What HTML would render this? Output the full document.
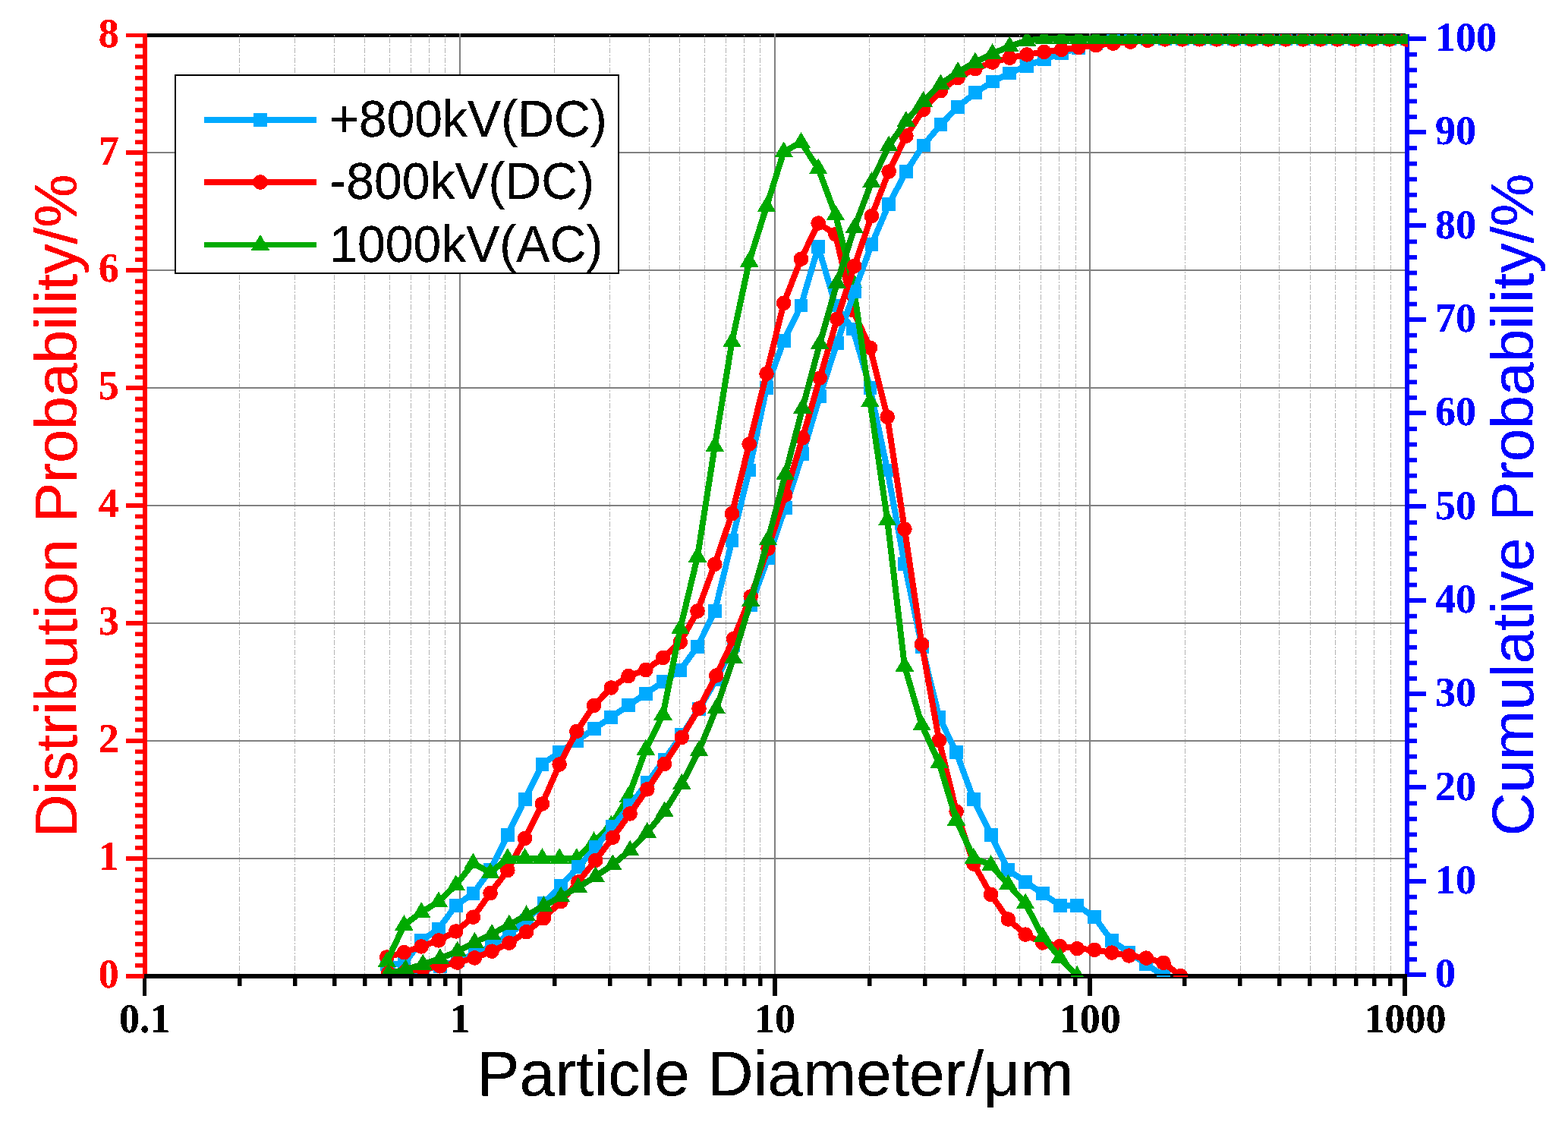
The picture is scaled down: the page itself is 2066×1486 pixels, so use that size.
<!DOCTYPE html>
<html lang="en"><head><meta charset="utf-8"><title>Particle size distribution</title>
<style>
html,body{margin:0;padding:0;background:#fff}
body{width:2066px;height:1486px;overflow:hidden}
svg{display:block}
</style></head>
<body>
<svg width="2066" height="1486" viewBox="0 0 2066 1486">
<defs>
<clipPath id="cpd"><rect x="191" y="46" width="1662" height="1237"/></clipPath>
<clipPath id="cpc"><rect x="191" y="45" width="1664" height="1238"/></clipPath>
<clipPath id="cps"><rect x="191" y="1285" width="1664" height="2"/></clipPath>
<filter id="th" x="0" y="0" width="2066" height="1486" filterUnits="userSpaceOnUse" color-interpolation-filters="sRGB"><feComponentTransfer><feFuncA type="discrete" tableValues="0 1 1"/></feComponentTransfer></filter>
</defs>
<rect width="2066" height="1486" fill="#fff"/>
<g shape-rendering="crispEdges">
<rect x="191" y="44" width="1661" height="5" fill="#000"/>
<line x1="315.5" y1="46" x2="315.5" y2="1283" stroke="#b4b4b4" stroke-width="1" stroke-dasharray="2 2.25 6.5 2.25"/>
<line x1="388.5" y1="46" x2="388.5" y2="1283" stroke="#b4b4b4" stroke-width="1" stroke-dasharray="2 2.25 6.5 2.25"/>
<line x1="440.5" y1="46" x2="440.5" y2="1283" stroke="#b4b4b4" stroke-width="1" stroke-dasharray="2 2.25 6.5 2.25"/>
<line x1="480.5" y1="46" x2="480.5" y2="1283" stroke="#b4b4b4" stroke-width="1" stroke-dasharray="2 2.25 6.5 2.25"/>
<line x1="513.5" y1="46" x2="513.5" y2="1283" stroke="#b4b4b4" stroke-width="1" stroke-dasharray="2 2.25 6.5 2.25"/>
<line x1="541.5" y1="46" x2="541.5" y2="1283" stroke="#b4b4b4" stroke-width="1" stroke-dasharray="2 2.25 6.5 2.25"/>
<line x1="565.5" y1="46" x2="565.5" y2="1283" stroke="#b4b4b4" stroke-width="1" stroke-dasharray="2 2.25 6.5 2.25"/>
<line x1="586.5" y1="46" x2="586.5" y2="1283" stroke="#b4b4b4" stroke-width="1" stroke-dasharray="2 2.25 6.5 2.25"/>
<line x1="730.5" y1="46" x2="730.5" y2="1283" stroke="#b4b4b4" stroke-width="1" stroke-dasharray="2 2.25 6.5 2.25"/>
<line x1="803.5" y1="46" x2="803.5" y2="1283" stroke="#b4b4b4" stroke-width="1" stroke-dasharray="2 2.25 6.5 2.25"/>
<line x1="855.5" y1="46" x2="855.5" y2="1283" stroke="#b4b4b4" stroke-width="1" stroke-dasharray="2 2.25 6.5 2.25"/>
<line x1="895.5" y1="46" x2="895.5" y2="1283" stroke="#b4b4b4" stroke-width="1" stroke-dasharray="2 2.25 6.5 2.25"/>
<line x1="928.5" y1="46" x2="928.5" y2="1283" stroke="#b4b4b4" stroke-width="1" stroke-dasharray="2 2.25 6.5 2.25"/>
<line x1="956.5" y1="46" x2="956.5" y2="1283" stroke="#b4b4b4" stroke-width="1" stroke-dasharray="2 2.25 6.5 2.25"/>
<line x1="980.5" y1="46" x2="980.5" y2="1283" stroke="#b4b4b4" stroke-width="1" stroke-dasharray="2 2.25 6.5 2.25"/>
<line x1="1001.5" y1="46" x2="1001.5" y2="1283" stroke="#b4b4b4" stroke-width="1" stroke-dasharray="2 2.25 6.5 2.25"/>
<line x1="1145.5" y1="46" x2="1145.5" y2="1283" stroke="#b4b4b4" stroke-width="1" stroke-dasharray="2 2.25 6.5 2.25"/>
<line x1="1218.5" y1="46" x2="1218.5" y2="1283" stroke="#b4b4b4" stroke-width="1" stroke-dasharray="2 2.25 6.5 2.25"/>
<line x1="1270.5" y1="46" x2="1270.5" y2="1283" stroke="#b4b4b4" stroke-width="1" stroke-dasharray="2 2.25 6.5 2.25"/>
<line x1="1311.5" y1="46" x2="1311.5" y2="1283" stroke="#b4b4b4" stroke-width="1" stroke-dasharray="2 2.25 6.5 2.25"/>
<line x1="1343.5" y1="46" x2="1343.5" y2="1283" stroke="#b4b4b4" stroke-width="1" stroke-dasharray="2 2.25 6.5 2.25"/>
<line x1="1371.5" y1="46" x2="1371.5" y2="1283" stroke="#b4b4b4" stroke-width="1" stroke-dasharray="2 2.25 6.5 2.25"/>
<line x1="1395.5" y1="46" x2="1395.5" y2="1283" stroke="#b4b4b4" stroke-width="1" stroke-dasharray="2 2.25 6.5 2.25"/>
<line x1="1417.5" y1="46" x2="1417.5" y2="1283" stroke="#b4b4b4" stroke-width="1" stroke-dasharray="2 2.25 6.5 2.25"/>
<line x1="1561.5" y1="46" x2="1561.5" y2="1283" stroke="#b4b4b4" stroke-width="1" stroke-dasharray="2 2.25 6.5 2.25"/>
<line x1="1634.5" y1="46" x2="1634.5" y2="1283" stroke="#b4b4b4" stroke-width="1" stroke-dasharray="2 2.25 6.5 2.25"/>
<line x1="1685.5" y1="46" x2="1685.5" y2="1283" stroke="#b4b4b4" stroke-width="1" stroke-dasharray="2 2.25 6.5 2.25"/>
<line x1="1726.5" y1="46" x2="1726.5" y2="1283" stroke="#b4b4b4" stroke-width="1" stroke-dasharray="2 2.25 6.5 2.25"/>
<line x1="1759.5" y1="46" x2="1759.5" y2="1283" stroke="#b4b4b4" stroke-width="1" stroke-dasharray="2 2.25 6.5 2.25"/>
<line x1="1786.5" y1="46" x2="1786.5" y2="1283" stroke="#b4b4b4" stroke-width="1" stroke-dasharray="2 2.25 6.5 2.25"/>
<line x1="1810.5" y1="46" x2="1810.5" y2="1283" stroke="#b4b4b4" stroke-width="1" stroke-dasharray="2 2.25 6.5 2.25"/>
<line x1="1832.5" y1="46" x2="1832.5" y2="1283" stroke="#b4b4b4" stroke-width="1" stroke-dasharray="2 2.25 6.5 2.25"/>
<rect x="605" y="44" width="2" height="1240" fill="#808080"/>
<rect x="1020" y="44" width="2" height="1240" fill="#808080"/>
<rect x="1435" y="44" width="2" height="1240" fill="#808080"/>
<rect x="193" y="1130" width="1660" height="2" fill="#808080"/>
<rect x="193" y="975" width="1660" height="2" fill="#808080"/>
<rect x="193" y="820" width="1660" height="2" fill="#808080"/>
<rect x="193" y="665" width="1660" height="2" fill="#808080"/>
<rect x="193" y="510" width="1660" height="2" fill="#808080"/>
<rect x="193" y="355" width="1660" height="2" fill="#808080"/>
<rect x="193" y="200" width="1660" height="2" fill="#808080"/>
<rect x="1851" y="45" width="6" height="1242" fill="#00f"/><rect x="1851" y="1281" width="28" height="6" fill="#00f"/><rect x="1851" y="1158" width="28" height="6" fill="#00f"/><rect x="1851" y="1034" width="28" height="6" fill="#00f"/><rect x="1851" y="911" width="28" height="6" fill="#00f"/><rect x="1851" y="788" width="28" height="6" fill="#00f"/><rect x="1851" y="664" width="28" height="6" fill="#00f"/><rect x="1851" y="541" width="28" height="6" fill="#00f"/><rect x="1851" y="418" width="28" height="6" fill="#00f"/><rect x="1851" y="294" width="28" height="6" fill="#00f"/><rect x="1851" y="171" width="28" height="6" fill="#00f"/><rect x="1851" y="48" width="28" height="6" fill="#00f"/><rect x="1851" y="1260.95" width="16" height="5.8" fill="#00f" shape-rendering="auto"/><rect x="1851" y="1240.39" width="16" height="5.8" fill="#00f" shape-rendering="auto"/><rect x="1851" y="1219.84" width="16" height="5.8" fill="#00f" shape-rendering="auto"/><rect x="1851" y="1199.29" width="16" height="5.8" fill="#00f" shape-rendering="auto"/><rect x="1851" y="1178.73" width="16" height="5.8" fill="#00f" shape-rendering="auto"/><rect x="1851" y="1137.63" width="16" height="5.8" fill="#00f" shape-rendering="auto"/><rect x="1851" y="1117.07" width="16" height="5.8" fill="#00f" shape-rendering="auto"/><rect x="1851" y="1096.52" width="16" height="5.8" fill="#00f" shape-rendering="auto"/><rect x="1851" y="1075.97" width="16" height="5.8" fill="#00f" shape-rendering="auto"/><rect x="1851" y="1055.41" width="16" height="5.8" fill="#00f" shape-rendering="auto"/><rect x="1851" y="1014.31" width="16" height="5.8" fill="#00f" shape-rendering="auto"/><rect x="1851" y="993.75" width="16" height="5.8" fill="#00f" shape-rendering="auto"/><rect x="1851" y="973.20" width="16" height="5.8" fill="#00f" shape-rendering="auto"/><rect x="1851" y="952.65" width="16" height="5.8" fill="#00f" shape-rendering="auto"/><rect x="1851" y="932.09" width="16" height="5.8" fill="#00f" shape-rendering="auto"/><rect x="1851" y="890.99" width="16" height="5.8" fill="#00f" shape-rendering="auto"/><rect x="1851" y="870.43" width="16" height="5.8" fill="#00f" shape-rendering="auto"/><rect x="1851" y="849.88" width="16" height="5.8" fill="#00f" shape-rendering="auto"/><rect x="1851" y="829.33" width="16" height="5.8" fill="#00f" shape-rendering="auto"/><rect x="1851" y="808.77" width="16" height="5.8" fill="#00f" shape-rendering="auto"/><rect x="1851" y="767.67" width="16" height="5.8" fill="#00f" shape-rendering="auto"/><rect x="1851" y="747.11" width="16" height="5.8" fill="#00f" shape-rendering="auto"/><rect x="1851" y="726.56" width="16" height="5.8" fill="#00f" shape-rendering="auto"/><rect x="1851" y="706.01" width="16" height="5.8" fill="#00f" shape-rendering="auto"/><rect x="1851" y="685.45" width="16" height="5.8" fill="#00f" shape-rendering="auto"/><rect x="1851" y="644.35" width="16" height="5.8" fill="#00f" shape-rendering="auto"/><rect x="1851" y="623.79" width="16" height="5.8" fill="#00f" shape-rendering="auto"/><rect x="1851" y="603.24" width="16" height="5.8" fill="#00f" shape-rendering="auto"/><rect x="1851" y="582.69" width="16" height="5.8" fill="#00f" shape-rendering="auto"/><rect x="1851" y="562.13" width="16" height="5.8" fill="#00f" shape-rendering="auto"/><rect x="1851" y="521.03" width="16" height="5.8" fill="#00f" shape-rendering="auto"/><rect x="1851" y="500.47" width="16" height="5.8" fill="#00f" shape-rendering="auto"/><rect x="1851" y="479.92" width="16" height="5.8" fill="#00f" shape-rendering="auto"/><rect x="1851" y="459.37" width="16" height="5.8" fill="#00f" shape-rendering="auto"/><rect x="1851" y="438.81" width="16" height="5.8" fill="#00f" shape-rendering="auto"/><rect x="1851" y="397.71" width="16" height="5.8" fill="#00f" shape-rendering="auto"/><rect x="1851" y="377.15" width="16" height="5.8" fill="#00f" shape-rendering="auto"/><rect x="1851" y="356.60" width="16" height="5.8" fill="#00f" shape-rendering="auto"/><rect x="1851" y="336.05" width="16" height="5.8" fill="#00f" shape-rendering="auto"/><rect x="1851" y="315.49" width="16" height="5.8" fill="#00f" shape-rendering="auto"/><rect x="1851" y="274.39" width="16" height="5.8" fill="#00f" shape-rendering="auto"/><rect x="1851" y="253.83" width="16" height="5.8" fill="#00f" shape-rendering="auto"/><rect x="1851" y="233.28" width="16" height="5.8" fill="#00f" shape-rendering="auto"/><rect x="1851" y="212.73" width="16" height="5.8" fill="#00f" shape-rendering="auto"/><rect x="1851" y="192.17" width="16" height="5.8" fill="#00f" shape-rendering="auto"/><rect x="1851" y="151.07" width="16" height="5.8" fill="#00f" shape-rendering="auto"/><rect x="1851" y="130.51" width="16" height="5.8" fill="#00f" shape-rendering="auto"/><rect x="1851" y="109.96" width="16" height="5.8" fill="#00f" shape-rendering="auto"/><rect x="1851" y="89.41" width="16" height="5.8" fill="#00f" shape-rendering="auto"/><rect x="1851" y="68.85" width="16" height="5.8" fill="#00f" shape-rendering="auto"/>
</g>
<g clip-path="url(#cpd)" shape-rendering="crispEdges">
<polyline points="509.7,1270.2 532.4,1270.2 555.2,1239.2 577.9,1223.7 600.7,1192.7 623.4,1177.2 646.1,1146.2 668.9,1099.7 691.6,1053.2 714.4,1006.7 737.1,991.2 759.8,975.8 782.6,960.3 805.3,944.8 828.1,929.3 850.8,913.8 873.5,898.3 896.3,882.8 919.0,851.8 941.8,805.3 964.5,712.3 987.2,619.4 1010.0,510.9 1032.7,448.9 1055.5,402.4 1078.2,325.0 1100.9,402.4 1123.7,433.4 1146.4,510.9 1169.2,619.4 1191.9,743.3 1214.6,851.8 1237.4,944.8 1260.1,991.2 1282.9,1053.2 1305.6,1099.7 1328.3,1146.2 1351.1,1161.7 1373.8,1177.2 1396.6,1192.7 1419.3,1192.7 1442.0,1208.2 1464.8,1239.2 1487.5,1254.7 1510.3,1270.2 1533.0,1285.7" fill="none" stroke="#00AAFF" stroke-width="8" stroke-linejoin="round"/><rect x="500.8" y="1261.3" width="17.8" height="17.8" fill="#00AAFF"/><rect x="523.5" y="1261.3" width="17.8" height="17.8" fill="#00AAFF"/><rect x="546.3" y="1230.3" width="17.8" height="17.8" fill="#00AAFF"/><rect x="569.0" y="1214.8" width="17.8" height="17.8" fill="#00AAFF"/><rect x="591.8" y="1183.8" width="17.8" height="17.8" fill="#00AAFF"/><rect x="614.5" y="1168.3" width="17.8" height="17.8" fill="#00AAFF"/><rect x="637.2" y="1137.3" width="17.8" height="17.8" fill="#00AAFF"/><rect x="660.0" y="1090.8" width="17.8" height="17.8" fill="#00AAFF"/><rect x="682.7" y="1044.3" width="17.8" height="17.8" fill="#00AAFF"/><rect x="705.5" y="997.8" width="17.8" height="17.8" fill="#00AAFF"/><rect x="728.2" y="982.3" width="17.8" height="17.8" fill="#00AAFF"/><rect x="750.9" y="966.9" width="17.8" height="17.8" fill="#00AAFF"/><rect x="773.7" y="951.4" width="17.8" height="17.8" fill="#00AAFF"/><rect x="796.4" y="935.9" width="17.8" height="17.8" fill="#00AAFF"/><rect x="819.2" y="920.4" width="17.8" height="17.8" fill="#00AAFF"/><rect x="841.9" y="904.9" width="17.8" height="17.8" fill="#00AAFF"/><rect x="864.6" y="889.4" width="17.8" height="17.8" fill="#00AAFF"/><rect x="887.4" y="873.9" width="17.8" height="17.8" fill="#00AAFF"/><rect x="910.1" y="842.9" width="17.8" height="17.8" fill="#00AAFF"/><rect x="932.9" y="796.4" width="17.8" height="17.8" fill="#00AAFF"/><rect x="955.6" y="703.4" width="17.8" height="17.8" fill="#00AAFF"/><rect x="978.3" y="610.5" width="17.8" height="17.8" fill="#00AAFF"/><rect x="1001.1" y="502.0" width="17.8" height="17.8" fill="#00AAFF"/><rect x="1023.8" y="440.0" width="17.8" height="17.8" fill="#00AAFF"/><rect x="1046.6" y="393.5" width="17.8" height="17.8" fill="#00AAFF"/><rect x="1069.3" y="316.1" width="17.8" height="17.8" fill="#00AAFF"/><rect x="1092.0" y="393.5" width="17.8" height="17.8" fill="#00AAFF"/><rect x="1114.8" y="424.5" width="17.8" height="17.8" fill="#00AAFF"/><rect x="1137.5" y="502.0" width="17.8" height="17.8" fill="#00AAFF"/><rect x="1160.3" y="610.5" width="17.8" height="17.8" fill="#00AAFF"/><rect x="1183.0" y="734.4" width="17.8" height="17.8" fill="#00AAFF"/><rect x="1205.7" y="842.9" width="17.8" height="17.8" fill="#00AAFF"/><rect x="1228.5" y="935.9" width="17.8" height="17.8" fill="#00AAFF"/><rect x="1251.2" y="982.3" width="17.8" height="17.8" fill="#00AAFF"/><rect x="1274.0" y="1044.3" width="17.8" height="17.8" fill="#00AAFF"/><rect x="1296.7" y="1090.8" width="17.8" height="17.8" fill="#00AAFF"/><rect x="1319.4" y="1137.3" width="17.8" height="17.8" fill="#00AAFF"/><rect x="1342.2" y="1152.8" width="17.8" height="17.8" fill="#00AAFF"/><rect x="1364.9" y="1168.3" width="17.8" height="17.8" fill="#00AAFF"/><rect x="1387.7" y="1183.8" width="17.8" height="17.8" fill="#00AAFF"/><rect x="1410.4" y="1183.8" width="17.8" height="17.8" fill="#00AAFF"/><rect x="1433.1" y="1199.3" width="17.8" height="17.8" fill="#00AAFF"/><rect x="1455.9" y="1230.3" width="17.8" height="17.8" fill="#00AAFF"/><rect x="1478.6" y="1245.8" width="17.8" height="17.8" fill="#00AAFF"/><rect x="1501.4" y="1261.3" width="17.8" height="17.8" fill="#00AAFF"/><rect x="1524.1" y="1276.8" width="17.8" height="17.8" fill="#00AAFF"/>
<polyline points="509.7,1260.9 532.4,1254.7 555.2,1246.9 577.9,1238.9 600.7,1226.9 623.4,1208.2 646.1,1176.6 668.9,1146.5 691.6,1104.4 714.4,1059.0 737.1,1007.0 759.8,963.5 782.6,929.4 805.3,906.0 828.1,890.5 850.8,882.5 873.5,866.5 896.3,845.9 919.0,805.0 941.8,743.3 964.5,676.7 987.2,585.0 1010.0,492.2 1032.7,399.3 1055.5,341.2 1078.2,294.0 1100.9,308.7 1123.7,408.6 1146.4,458.1 1169.2,549.3 1191.9,697.0 1214.6,848.8 1237.4,975.4 1260.1,1069.0 1282.9,1138.0 1305.6,1178.4 1328.3,1211.0 1351.1,1231.1 1373.8,1242.0 1396.6,1246.6 1419.3,1249.7 1442.0,1251.3 1464.8,1255.1 1487.5,1259.0 1510.3,1262.1 1533.0,1268.3 1555.7,1285.7" fill="none" stroke="#FF0000" stroke-width="8" stroke-linejoin="round"/><circle cx="509.7" cy="1260.9" r="9.8" fill="#FF0000"/><circle cx="532.4" cy="1254.7" r="9.8" fill="#FF0000"/><circle cx="555.2" cy="1246.9" r="9.8" fill="#FF0000"/><circle cx="577.9" cy="1238.9" r="9.8" fill="#FF0000"/><circle cx="600.7" cy="1226.9" r="9.8" fill="#FF0000"/><circle cx="623.4" cy="1208.2" r="9.8" fill="#FF0000"/><circle cx="646.1" cy="1176.6" r="9.8" fill="#FF0000"/><circle cx="668.9" cy="1146.5" r="9.8" fill="#FF0000"/><circle cx="691.6" cy="1104.4" r="9.8" fill="#FF0000"/><circle cx="714.4" cy="1059.0" r="9.8" fill="#FF0000"/><circle cx="737.1" cy="1007.0" r="9.8" fill="#FF0000"/><circle cx="759.8" cy="963.5" r="9.8" fill="#FF0000"/><circle cx="782.6" cy="929.4" r="9.8" fill="#FF0000"/><circle cx="805.3" cy="906.0" r="9.8" fill="#FF0000"/><circle cx="828.1" cy="890.5" r="9.8" fill="#FF0000"/><circle cx="850.8" cy="882.5" r="9.8" fill="#FF0000"/><circle cx="873.5" cy="866.5" r="9.8" fill="#FF0000"/><circle cx="896.3" cy="845.9" r="9.8" fill="#FF0000"/><circle cx="919.0" cy="805.0" r="9.8" fill="#FF0000"/><circle cx="941.8" cy="743.3" r="9.8" fill="#FF0000"/><circle cx="964.5" cy="676.7" r="9.8" fill="#FF0000"/><circle cx="987.2" cy="585.0" r="9.8" fill="#FF0000"/><circle cx="1010.0" cy="492.2" r="9.8" fill="#FF0000"/><circle cx="1032.7" cy="399.3" r="9.8" fill="#FF0000"/><circle cx="1055.5" cy="341.2" r="9.8" fill="#FF0000"/><circle cx="1078.2" cy="294.0" r="9.8" fill="#FF0000"/><circle cx="1100.9" cy="308.7" r="9.8" fill="#FF0000"/><circle cx="1123.7" cy="408.6" r="9.8" fill="#FF0000"/><circle cx="1146.4" cy="458.1" r="9.8" fill="#FF0000"/><circle cx="1169.2" cy="549.3" r="9.8" fill="#FF0000"/><circle cx="1191.9" cy="697.0" r="9.8" fill="#FF0000"/><circle cx="1214.6" cy="848.8" r="9.8" fill="#FF0000"/><circle cx="1237.4" cy="975.4" r="9.8" fill="#FF0000"/><circle cx="1260.1" cy="1069.0" r="9.8" fill="#FF0000"/><circle cx="1282.9" cy="1138.0" r="9.8" fill="#FF0000"/><circle cx="1305.6" cy="1178.4" r="9.8" fill="#FF0000"/><circle cx="1328.3" cy="1211.0" r="9.8" fill="#FF0000"/><circle cx="1351.1" cy="1231.1" r="9.8" fill="#FF0000"/><circle cx="1373.8" cy="1242.0" r="9.8" fill="#FF0000"/><circle cx="1396.6" cy="1246.6" r="9.8" fill="#FF0000"/><circle cx="1419.3" cy="1249.7" r="9.8" fill="#FF0000"/><circle cx="1442.0" cy="1251.3" r="9.8" fill="#FF0000"/><circle cx="1464.8" cy="1255.1" r="9.8" fill="#FF0000"/><circle cx="1487.5" cy="1259.0" r="9.8" fill="#FF0000"/><circle cx="1510.3" cy="1262.1" r="9.8" fill="#FF0000"/><circle cx="1533.0" cy="1268.3" r="9.8" fill="#FF0000"/><circle cx="1555.7" cy="1285.7" r="9.8" fill="#FF0000"/>
<polyline points="509.7,1267.1 532.4,1218.6 555.2,1201.8 577.9,1187.9 600.7,1165.9 623.4,1137.2 646.1,1149.8 668.9,1130.7 691.6,1130.7 714.4,1130.7 737.1,1130.7 759.8,1130.7 782.6,1108.9 805.3,1087.3 828.1,1049.4 850.8,987.5 873.5,941.4 896.3,828.2 919.0,733.4 941.8,587.8 964.5,450.0 987.2,344.5 1010.0,272.0 1032.7,199.9 1055.5,187.5 1078.2,222.1 1100.9,283.1 1123.7,371.4 1146.4,528.9 1169.2,685.2 1191.9,877.4 1214.6,955.1 1237.4,1005.2 1260.1,1080.3 1282.9,1130.4 1305.6,1139.7 1328.3,1165.1 1351.1,1190.2 1373.8,1233.9 1396.6,1261.8 1419.3,1285.7" fill="none" stroke="#00AA00" stroke-width="8" stroke-linejoin="round"/><polygon points="509.7,1253.5 497.4,1274.3 522.0,1274.3" fill="#00AA00"/><polygon points="532.4,1205.0 520.1,1225.8 544.7,1225.8" fill="#00AA00"/><polygon points="555.2,1188.2 542.9,1209.0 567.5,1209.0" fill="#00AA00"/><polygon points="577.9,1174.3 565.6,1195.1 590.2,1195.1" fill="#00AA00"/><polygon points="600.7,1152.3 588.4,1173.1 613.0,1173.1" fill="#00AA00"/><polygon points="623.4,1123.6 611.1,1144.4 635.7,1144.4" fill="#00AA00"/><polygon points="646.1,1136.2 633.8,1157.0 658.4,1157.0" fill="#00AA00"/><polygon points="668.9,1117.1 656.6,1137.9 681.2,1137.9" fill="#00AA00"/><polygon points="691.6,1117.1 679.3,1137.9 703.9,1137.9" fill="#00AA00"/><polygon points="714.4,1117.1 702.1,1137.9 726.7,1137.9" fill="#00AA00"/><polygon points="737.1,1117.1 724.8,1137.9 749.4,1137.9" fill="#00AA00"/><polygon points="759.8,1117.1 747.5,1137.9 772.1,1137.9" fill="#00AA00"/><polygon points="782.6,1095.3 770.3,1116.1 794.9,1116.1" fill="#00AA00"/><polygon points="805.3,1073.7 793.0,1094.5 817.6,1094.5" fill="#00AA00"/><polygon points="828.1,1035.8 815.8,1056.6 840.4,1056.6" fill="#00AA00"/><polygon points="850.8,973.9 838.5,994.7 863.1,994.7" fill="#00AA00"/><polygon points="873.5,927.8 861.2,948.6 885.8,948.6" fill="#00AA00"/><polygon points="896.3,814.6 884.0,835.4 908.6,835.4" fill="#00AA00"/><polygon points="919.0,719.8 906.7,740.6 931.3,740.6" fill="#00AA00"/><polygon points="941.8,574.2 929.5,595.0 954.1,595.0" fill="#00AA00"/><polygon points="964.5,436.4 952.2,457.2 976.8,457.2" fill="#00AA00"/><polygon points="987.2,330.9 974.9,351.7 999.5,351.7" fill="#00AA00"/><polygon points="1010.0,258.4 997.7,279.2 1022.3,279.2" fill="#00AA00"/><polygon points="1032.7,186.3 1020.4,207.1 1045.0,207.1" fill="#00AA00"/><polygon points="1055.5,173.9 1043.2,194.7 1067.8,194.7" fill="#00AA00"/><polygon points="1078.2,208.5 1065.9,229.3 1090.5,229.3" fill="#00AA00"/><polygon points="1100.9,269.5 1088.6,290.3 1113.2,290.3" fill="#00AA00"/><polygon points="1123.7,357.8 1111.4,378.6 1136.0,378.6" fill="#00AA00"/><polygon points="1146.4,515.3 1134.1,536.1 1158.7,536.1" fill="#00AA00"/><polygon points="1169.2,671.6 1156.9,692.4 1181.5,692.4" fill="#00AA00"/><polygon points="1191.9,863.8 1179.6,884.6 1204.2,884.6" fill="#00AA00"/><polygon points="1214.6,941.5 1202.3,962.3 1226.9,962.3" fill="#00AA00"/><polygon points="1237.4,991.6 1225.1,1012.4 1249.7,1012.4" fill="#00AA00"/><polygon points="1260.1,1066.7 1247.8,1087.5 1272.4,1087.5" fill="#00AA00"/><polygon points="1282.9,1116.8 1270.6,1137.6 1295.2,1137.6" fill="#00AA00"/><polygon points="1305.6,1126.1 1293.3,1146.9 1317.9,1146.9" fill="#00AA00"/><polygon points="1328.3,1151.5 1316.0,1172.3 1340.6,1172.3" fill="#00AA00"/><polygon points="1351.1,1176.6 1338.8,1197.4 1363.4,1197.4" fill="#00AA00"/><polygon points="1373.8,1220.3 1361.5,1241.1 1386.1,1241.1" fill="#00AA00"/><polygon points="1396.6,1248.2 1384.3,1269.0 1408.9,1269.0" fill="#00AA00"/><polygon points="1419.3,1272.1 1407.0,1292.9 1431.6,1292.9" fill="#00AA00"/>
</g>
<g clip-path="url(#cpc)" shape-rendering="crispEdges">
<polyline points="511.7,1282.8 534.4,1281.5 557.2,1277.8 579.9,1272.9 602.7,1265.5 625.4,1256.9 648.1,1245.8 670.9,1231.0 693.6,1212.5 716.4,1190.3 739.1,1166.8 761.8,1142.2 784.6,1116.3 807.3,1089.2 830.1,1060.8 852.8,1031.2 875.5,1000.4 898.3,968.3 921.0,933.8 943.8,895.5 966.5,849.9 989.2,796.9 1012.0,735.2 1034.7,668.6 1057.5,598.3 1080.2,521.9 1102.9,451.6 1125.7,383.8 1148.4,322.1 1171.2,269.1 1193.9,225.9 1216.6,191.4 1239.4,164.3 1262.1,140.8 1284.9,122.3 1307.6,107.5 1330.3,96.4 1353.1,86.6 1375.8,77.9 1398.6,70.5 1421.3,63.1 1444.0,57.0 1466.8,53.3 1489.5,50.8 1512.3,50.8 1535.0,50.8 1557.7,50.8 1580.5,50.8 1603.2,50.8 1626.0,50.8 1648.7,50.8 1671.4,50.8 1694.2,50.8 1716.9,50.8 1739.7,50.8 1762.4,50.8 1785.1,50.8 1807.9,50.8 1830.6,50.8 1853.4,50.8" fill="none" stroke="#00AAFF" stroke-width="8" stroke-linejoin="round"/><rect x="502.8" y="1273.9" width="17.8" height="17.8" fill="#00AAFF"/><rect x="525.5" y="1272.6" width="17.8" height="17.8" fill="#00AAFF"/><rect x="548.3" y="1268.9" width="17.8" height="17.8" fill="#00AAFF"/><rect x="571.0" y="1264.0" width="17.8" height="17.8" fill="#00AAFF"/><rect x="593.8" y="1256.6" width="17.8" height="17.8" fill="#00AAFF"/><rect x="616.5" y="1248.0" width="17.8" height="17.8" fill="#00AAFF"/><rect x="639.2" y="1236.9" width="17.8" height="17.8" fill="#00AAFF"/><rect x="662.0" y="1222.1" width="17.8" height="17.8" fill="#00AAFF"/><rect x="684.7" y="1203.6" width="17.8" height="17.8" fill="#00AAFF"/><rect x="707.5" y="1181.4" width="17.8" height="17.8" fill="#00AAFF"/><rect x="730.2" y="1157.9" width="17.8" height="17.8" fill="#00AAFF"/><rect x="752.9" y="1133.3" width="17.8" height="17.8" fill="#00AAFF"/><rect x="775.7" y="1107.4" width="17.8" height="17.8" fill="#00AAFF"/><rect x="798.4" y="1080.3" width="17.8" height="17.8" fill="#00AAFF"/><rect x="821.2" y="1051.9" width="17.8" height="17.8" fill="#00AAFF"/><rect x="843.9" y="1022.3" width="17.8" height="17.8" fill="#00AAFF"/><rect x="866.6" y="991.5" width="17.8" height="17.8" fill="#00AAFF"/><rect x="889.4" y="959.4" width="17.8" height="17.8" fill="#00AAFF"/><rect x="912.1" y="924.9" width="17.8" height="17.8" fill="#00AAFF"/><rect x="934.9" y="886.6" width="17.8" height="17.8" fill="#00AAFF"/><rect x="957.6" y="841.0" width="17.8" height="17.8" fill="#00AAFF"/><rect x="980.3" y="788.0" width="17.8" height="17.8" fill="#00AAFF"/><rect x="1003.1" y="726.3" width="17.8" height="17.8" fill="#00AAFF"/><rect x="1025.8" y="659.7" width="17.8" height="17.8" fill="#00AAFF"/><rect x="1048.6" y="589.4" width="17.8" height="17.8" fill="#00AAFF"/><rect x="1071.3" y="513.0" width="17.8" height="17.8" fill="#00AAFF"/><rect x="1094.0" y="442.7" width="17.8" height="17.8" fill="#00AAFF"/><rect x="1116.8" y="374.9" width="17.8" height="17.8" fill="#00AAFF"/><rect x="1139.5" y="313.2" width="17.8" height="17.8" fill="#00AAFF"/><rect x="1162.3" y="260.2" width="17.8" height="17.8" fill="#00AAFF"/><rect x="1185.0" y="217.0" width="17.8" height="17.8" fill="#00AAFF"/><rect x="1207.7" y="182.5" width="17.8" height="17.8" fill="#00AAFF"/><rect x="1230.5" y="155.4" width="17.8" height="17.8" fill="#00AAFF"/><rect x="1253.2" y="131.9" width="17.8" height="17.8" fill="#00AAFF"/><rect x="1276.0" y="113.4" width="17.8" height="17.8" fill="#00AAFF"/><rect x="1298.7" y="98.6" width="17.8" height="17.8" fill="#00AAFF"/><rect x="1321.4" y="87.5" width="17.8" height="17.8" fill="#00AAFF"/><rect x="1344.2" y="77.7" width="17.8" height="17.8" fill="#00AAFF"/><rect x="1366.9" y="69.0" width="17.8" height="17.8" fill="#00AAFF"/><rect x="1389.7" y="61.6" width="17.8" height="17.8" fill="#00AAFF"/><rect x="1412.4" y="54.2" width="17.8" height="17.8" fill="#00AAFF"/><rect x="1435.1" y="48.1" width="17.8" height="17.8" fill="#00AAFF"/><rect x="1457.9" y="44.4" width="17.8" height="17.8" fill="#00AAFF"/><rect x="1480.6" y="41.9" width="17.8" height="17.8" fill="#00AAFF"/><rect x="1503.4" y="41.9" width="17.8" height="17.8" fill="#00AAFF"/><rect x="1526.1" y="41.9" width="17.8" height="17.8" fill="#00AAFF"/><rect x="1548.8" y="41.9" width="17.8" height="17.8" fill="#00AAFF"/><rect x="1571.6" y="41.9" width="17.8" height="17.8" fill="#00AAFF"/><rect x="1594.3" y="41.9" width="17.8" height="17.8" fill="#00AAFF"/><rect x="1617.1" y="41.9" width="17.8" height="17.8" fill="#00AAFF"/><rect x="1639.8" y="41.9" width="17.8" height="17.8" fill="#00AAFF"/><rect x="1662.5" y="41.9" width="17.8" height="17.8" fill="#00AAFF"/><rect x="1685.3" y="41.9" width="17.8" height="17.8" fill="#00AAFF"/><rect x="1708.0" y="41.9" width="17.8" height="17.8" fill="#00AAFF"/><rect x="1730.8" y="41.9" width="17.8" height="17.8" fill="#00AAFF"/><rect x="1753.5" y="41.9" width="17.8" height="17.8" fill="#00AAFF"/><rect x="1776.2" y="41.9" width="17.8" height="17.8" fill="#00AAFF"/><rect x="1799.0" y="41.9" width="17.8" height="17.8" fill="#00AAFF"/><rect x="1821.7" y="41.9" width="17.8" height="17.8" fill="#00AAFF"/><rect x="1844.5" y="41.9" width="17.8" height="17.8" fill="#00AAFF"/>
<polyline points="511.7,1282.0 534.4,1279.6 557.2,1276.5 579.9,1272.8 602.7,1268.1 625.4,1261.9 648.1,1253.2 670.9,1242.2 693.6,1227.7 716.4,1209.7 739.1,1187.5 761.8,1161.9 784.6,1133.5 807.3,1103.3 830.1,1071.9 852.8,1039.8 875.5,1006.4 898.3,971.4 921.0,933.2 943.8,890.0 966.5,841.5 989.2,785.8 1012.0,722.6 1034.7,652.1 1057.5,576.9 1080.2,498.0 1102.9,420.2 1125.7,350.4 1148.4,284.6 1171.2,226.0 1193.9,179.1 1216.6,144.4 1239.4,119.7 1262.1,102.4 1284.9,90.7 1307.6,82.1 1330.3,76.2 1353.1,71.9 1375.8,68.4 1398.6,65.3 1421.3,62.4 1444.0,59.7 1466.8,57.2 1489.5,55.1 1512.3,53.3 1535.0,51.9 1557.7,51.9 1580.5,51.9 1603.2,51.9 1626.0,51.9 1648.7,51.9 1671.4,51.9 1694.2,51.9 1716.9,51.9 1739.7,51.9 1762.4,51.9 1785.1,51.9 1807.9,51.9 1830.6,51.9 1853.4,51.9" fill="none" stroke="#FF0000" stroke-width="8" stroke-linejoin="round"/><circle cx="511.7" cy="1282.0" r="9.8" fill="#FF0000"/><circle cx="534.4" cy="1279.6" r="9.8" fill="#FF0000"/><circle cx="557.2" cy="1276.5" r="9.8" fill="#FF0000"/><circle cx="579.9" cy="1272.8" r="9.8" fill="#FF0000"/><circle cx="602.7" cy="1268.1" r="9.8" fill="#FF0000"/><circle cx="625.4" cy="1261.9" r="9.8" fill="#FF0000"/><circle cx="648.1" cy="1253.2" r="9.8" fill="#FF0000"/><circle cx="670.9" cy="1242.2" r="9.8" fill="#FF0000"/><circle cx="693.6" cy="1227.7" r="9.8" fill="#FF0000"/><circle cx="716.4" cy="1209.7" r="9.8" fill="#FF0000"/><circle cx="739.1" cy="1187.5" r="9.8" fill="#FF0000"/><circle cx="761.8" cy="1161.9" r="9.8" fill="#FF0000"/><circle cx="784.6" cy="1133.5" r="9.8" fill="#FF0000"/><circle cx="807.3" cy="1103.3" r="9.8" fill="#FF0000"/><circle cx="830.1" cy="1071.9" r="9.8" fill="#FF0000"/><circle cx="852.8" cy="1039.8" r="9.8" fill="#FF0000"/><circle cx="875.5" cy="1006.4" r="9.8" fill="#FF0000"/><circle cx="898.3" cy="971.4" r="9.8" fill="#FF0000"/><circle cx="921.0" cy="933.2" r="9.8" fill="#FF0000"/><circle cx="943.8" cy="890.0" r="9.8" fill="#FF0000"/><circle cx="966.5" cy="841.5" r="9.8" fill="#FF0000"/><circle cx="989.2" cy="785.8" r="9.8" fill="#FF0000"/><circle cx="1012.0" cy="722.6" r="9.8" fill="#FF0000"/><circle cx="1034.7" cy="652.1" r="9.8" fill="#FF0000"/><circle cx="1057.5" cy="576.9" r="9.8" fill="#FF0000"/><circle cx="1080.2" cy="498.0" r="9.8" fill="#FF0000"/><circle cx="1102.9" cy="420.2" r="9.8" fill="#FF0000"/><circle cx="1125.7" cy="350.4" r="9.8" fill="#FF0000"/><circle cx="1148.4" cy="284.6" r="9.8" fill="#FF0000"/><circle cx="1171.2" cy="226.0" r="9.8" fill="#FF0000"/><circle cx="1193.9" cy="179.1" r="9.8" fill="#FF0000"/><circle cx="1216.6" cy="144.4" r="9.8" fill="#FF0000"/><circle cx="1239.4" cy="119.7" r="9.8" fill="#FF0000"/><circle cx="1262.1" cy="102.4" r="9.8" fill="#FF0000"/><circle cx="1284.9" cy="90.7" r="9.8" fill="#FF0000"/><circle cx="1307.6" cy="82.1" r="9.8" fill="#FF0000"/><circle cx="1330.3" cy="76.2" r="9.8" fill="#FF0000"/><circle cx="1353.1" cy="71.9" r="9.8" fill="#FF0000"/><circle cx="1375.8" cy="68.4" r="9.8" fill="#FF0000"/><circle cx="1398.6" cy="65.3" r="9.8" fill="#FF0000"/><circle cx="1421.3" cy="62.4" r="9.8" fill="#FF0000"/><circle cx="1444.0" cy="59.7" r="9.8" fill="#FF0000"/><circle cx="1466.8" cy="57.2" r="9.8" fill="#FF0000"/><circle cx="1489.5" cy="55.1" r="9.8" fill="#FF0000"/><circle cx="1512.3" cy="53.3" r="9.8" fill="#FF0000"/><circle cx="1535.0" cy="51.9" r="9.8" fill="#FF0000"/><circle cx="1557.7" cy="51.9" r="9.8" fill="#FF0000"/><circle cx="1580.5" cy="51.9" r="9.8" fill="#FF0000"/><circle cx="1603.2" cy="51.9" r="9.8" fill="#FF0000"/><circle cx="1626.0" cy="51.9" r="9.8" fill="#FF0000"/><circle cx="1648.7" cy="51.9" r="9.8" fill="#FF0000"/><circle cx="1671.4" cy="51.9" r="9.8" fill="#FF0000"/><circle cx="1694.2" cy="51.9" r="9.8" fill="#FF0000"/><circle cx="1716.9" cy="51.9" r="9.8" fill="#FF0000"/><circle cx="1739.7" cy="51.9" r="9.8" fill="#FF0000"/><circle cx="1762.4" cy="51.9" r="9.8" fill="#FF0000"/><circle cx="1785.1" cy="51.9" r="9.8" fill="#FF0000"/><circle cx="1807.9" cy="51.9" r="9.8" fill="#FF0000"/><circle cx="1830.6" cy="51.9" r="9.8" fill="#FF0000"/><circle cx="1853.4" cy="51.9" r="9.8" fill="#FF0000"/>
<polyline points="511.7,1282.5 534.4,1277.2 557.2,1270.5 579.9,1262.7 602.7,1253.2 625.4,1241.4 648.1,1230.6 670.9,1218.2 693.6,1205.9 716.4,1193.6 739.1,1181.2 761.8,1168.9 784.6,1154.8 807.3,1139.0 830.1,1120.2 852.8,1096.5 875.5,1069.1 898.3,1032.7 921.0,988.8 943.8,933.2 966.5,866.7 989.2,791.8 1012.0,711.1 1034.7,624.7 1057.5,537.3 1080.2,452.7 1102.9,372.9 1125.7,300.1 1148.4,239.9 1171.2,192.1 1193.9,159.6 1216.6,133.3 1239.4,111.0 1262.1,94.7 1284.9,82.3 1307.6,70.7 1330.3,61.1 1353.1,53.5 1375.8,50.8 1398.6,50.8 1421.3,50.8 1444.0,50.8 1466.8,50.8 1489.5,50.8 1512.3,50.8 1535.0,50.8 1557.7,50.8 1580.5,50.8 1603.2,50.8 1626.0,50.8 1648.7,50.8 1671.4,50.8 1694.2,50.8 1716.9,50.8 1739.7,50.8 1762.4,50.8 1785.1,50.8 1807.9,50.8 1830.6,50.8 1853.4,50.8" fill="none" stroke="#009900" stroke-width="8" stroke-linejoin="round"/><polygon points="511.7,1268.9 499.4,1289.7 524.0,1289.7" fill="#009900"/><polygon points="534.4,1263.6 522.1,1284.4 546.7,1284.4" fill="#009900"/><polygon points="557.2,1256.9 544.9,1277.7 569.5,1277.7" fill="#009900"/><polygon points="579.9,1249.1 567.6,1269.9 592.2,1269.9" fill="#009900"/><polygon points="602.7,1239.6 590.4,1260.4 615.0,1260.4" fill="#009900"/><polygon points="625.4,1227.8 613.1,1248.6 637.7,1248.6" fill="#009900"/><polygon points="648.1,1217.0 635.8,1237.8 660.4,1237.8" fill="#009900"/><polygon points="670.9,1204.6 658.6,1225.4 683.2,1225.4" fill="#009900"/><polygon points="693.6,1192.3 681.3,1213.1 705.9,1213.1" fill="#009900"/><polygon points="716.4,1180.0 704.1,1200.8 728.7,1200.8" fill="#009900"/><polygon points="739.1,1167.6 726.8,1188.4 751.4,1188.4" fill="#009900"/><polygon points="761.8,1155.3 749.5,1176.1 774.1,1176.1" fill="#009900"/><polygon points="784.6,1141.2 772.3,1162.0 796.9,1162.0" fill="#009900"/><polygon points="807.3,1125.4 795.0,1146.2 819.6,1146.2" fill="#009900"/><polygon points="830.1,1106.6 817.8,1127.4 842.4,1127.4" fill="#009900"/><polygon points="852.8,1082.9 840.5,1103.7 865.1,1103.7" fill="#009900"/><polygon points="875.5,1055.5 863.2,1076.3 887.8,1076.3" fill="#009900"/><polygon points="898.3,1019.1 886.0,1039.9 910.6,1039.9" fill="#009900"/><polygon points="921.0,975.2 908.7,996.0 933.3,996.0" fill="#009900"/><polygon points="943.8,919.6 931.5,940.4 956.1,940.4" fill="#009900"/><polygon points="966.5,853.1 954.2,873.9 978.8,873.9" fill="#009900"/><polygon points="989.2,778.2 976.9,799.0 1001.5,799.0" fill="#009900"/><polygon points="1012.0,697.5 999.7,718.3 1024.3,718.3" fill="#009900"/><polygon points="1034.7,611.1 1022.4,631.9 1047.0,631.9" fill="#009900"/><polygon points="1057.5,523.7 1045.2,544.5 1069.8,544.5" fill="#009900"/><polygon points="1080.2,439.1 1067.9,459.9 1092.5,459.9" fill="#009900"/><polygon points="1102.9,359.3 1090.6,380.1 1115.2,380.1" fill="#009900"/><polygon points="1125.7,286.5 1113.4,307.3 1138.0,307.3" fill="#009900"/><polygon points="1148.4,226.3 1136.1,247.1 1160.7,247.1" fill="#009900"/><polygon points="1171.2,178.5 1158.9,199.3 1183.5,199.3" fill="#009900"/><polygon points="1193.9,146.0 1181.6,166.8 1206.2,166.8" fill="#009900"/><polygon points="1216.6,119.7 1204.3,140.5 1228.9,140.5" fill="#009900"/><polygon points="1239.4,97.4 1227.1,118.2 1251.7,118.2" fill="#009900"/><polygon points="1262.1,81.1 1249.8,101.9 1274.4,101.9" fill="#009900"/><polygon points="1284.9,68.7 1272.6,89.5 1297.2,89.5" fill="#009900"/><polygon points="1307.6,57.1 1295.3,77.9 1319.9,77.9" fill="#009900"/><polygon points="1330.3,47.5 1318.0,68.3 1342.6,68.3" fill="#009900"/><polygon points="1353.1,39.9 1340.8,60.7 1365.4,60.7" fill="#009900"/><polygon points="1375.8,37.2 1363.5,58.0 1388.1,58.0" fill="#009900"/><polygon points="1398.6,37.2 1386.3,58.0 1410.9,58.0" fill="#009900"/><polygon points="1421.3,37.2 1409.0,58.0 1433.6,58.0" fill="#009900"/><polygon points="1444.0,37.2 1431.7,58.0 1456.3,58.0" fill="#009900"/><polygon points="1466.8,37.2 1454.5,58.0 1479.1,58.0" fill="#009900"/><polygon points="1489.5,37.2 1477.2,58.0 1501.8,58.0" fill="#009900"/><polygon points="1512.3,37.2 1500.0,58.0 1524.6,58.0" fill="#009900"/><polygon points="1535.0,37.2 1522.7,58.0 1547.3,58.0" fill="#009900"/><polygon points="1557.7,37.2 1545.4,58.0 1570.0,58.0" fill="#009900"/><polygon points="1580.5,37.2 1568.2,58.0 1592.8,58.0" fill="#009900"/><polygon points="1603.2,37.2 1590.9,58.0 1615.5,58.0" fill="#009900"/><polygon points="1626.0,37.2 1613.7,58.0 1638.3,58.0" fill="#009900"/><polygon points="1648.7,37.2 1636.4,58.0 1661.0,58.0" fill="#009900"/><polygon points="1671.4,37.2 1659.1,58.0 1683.7,58.0" fill="#009900"/><polygon points="1694.2,37.2 1681.9,58.0 1706.5,58.0" fill="#009900"/><polygon points="1716.9,37.2 1704.6,58.0 1729.2,58.0" fill="#009900"/><polygon points="1739.7,37.2 1727.4,58.0 1752.0,58.0" fill="#009900"/><polygon points="1762.4,37.2 1750.1,58.0 1774.7,58.0" fill="#009900"/><polygon points="1785.1,37.2 1772.8,58.0 1797.4,58.0" fill="#009900"/><polygon points="1807.9,37.2 1795.6,58.0 1820.2,58.0" fill="#009900"/><polygon points="1830.6,37.2 1818.3,58.0 1842.9,58.0" fill="#009900"/><polygon points="1853.4,37.2 1841.1,58.0 1865.7,58.0" fill="#009900"/>
</g>
<g shape-rendering="crispEdges">
<rect x="188" y="1283" width="1666" height="6" fill="#000"/><rect x="188" y="1286" width="5" height="26" fill="#000"/><rect x="603" y="1286" width="6" height="26" fill="#000"/><rect x="1018" y="1286" width="6" height="26" fill="#000"/><rect x="1433" y="1286" width="6" height="26" fill="#000"/><rect x="1848" y="1286" width="6" height="26" fill="#000"/><rect x="313" y="1286" width="5.5" height="13" fill="#000" shape-rendering="auto"/><rect x="386" y="1286" width="5.5" height="13" fill="#000" shape-rendering="auto"/><rect x="438" y="1286" width="5.5" height="13" fill="#000" shape-rendering="auto"/><rect x="478" y="1286" width="5.5" height="13" fill="#000" shape-rendering="auto"/><rect x="511" y="1286" width="5.5" height="13" fill="#000" shape-rendering="auto"/><rect x="539" y="1286" width="5.5" height="13" fill="#000" shape-rendering="auto"/><rect x="563" y="1286" width="5.5" height="13" fill="#000" shape-rendering="auto"/><rect x="584" y="1286" width="5.5" height="13" fill="#000" shape-rendering="auto"/><rect x="728" y="1286" width="5.5" height="13" fill="#000" shape-rendering="auto"/><rect x="801" y="1286" width="5.5" height="13" fill="#000" shape-rendering="auto"/><rect x="853" y="1286" width="5.5" height="13" fill="#000" shape-rendering="auto"/><rect x="893" y="1286" width="5.5" height="13" fill="#000" shape-rendering="auto"/><rect x="926" y="1286" width="5.5" height="13" fill="#000" shape-rendering="auto"/><rect x="954" y="1286" width="5.5" height="13" fill="#000" shape-rendering="auto"/><rect x="978" y="1286" width="5.5" height="13" fill="#000" shape-rendering="auto"/><rect x="999" y="1286" width="5.5" height="13" fill="#000" shape-rendering="auto"/><rect x="1143" y="1286" width="5.5" height="13" fill="#000" shape-rendering="auto"/><rect x="1216" y="1286" width="5.5" height="13" fill="#000" shape-rendering="auto"/><rect x="1268" y="1286" width="5.5" height="13" fill="#000" shape-rendering="auto"/><rect x="1308" y="1286" width="5.5" height="13" fill="#000" shape-rendering="auto"/><rect x="1341" y="1286" width="5.5" height="13" fill="#000" shape-rendering="auto"/><rect x="1369" y="1286" width="5.5" height="13" fill="#000" shape-rendering="auto"/><rect x="1393" y="1286" width="5.5" height="13" fill="#000" shape-rendering="auto"/><rect x="1414" y="1286" width="5.5" height="13" fill="#000" shape-rendering="auto"/><rect x="1558" y="1286" width="5.5" height="13" fill="#000" shape-rendering="auto"/><rect x="1631" y="1286" width="5.5" height="13" fill="#000" shape-rendering="auto"/><rect x="1683" y="1286" width="5.5" height="13" fill="#000" shape-rendering="auto"/><rect x="1723" y="1286" width="5.5" height="13" fill="#000" shape-rendering="auto"/><rect x="1756" y="1286" width="5.5" height="13" fill="#000" shape-rendering="auto"/><rect x="1784" y="1286" width="5.5" height="13" fill="#000" shape-rendering="auto"/><rect x="1808" y="1286" width="5.5" height="13" fill="#000" shape-rendering="auto"/><rect x="1829" y="1286" width="5.5" height="13" fill="#000" shape-rendering="auto"/>
</g>
<g clip-path="url(#cps)" shape-rendering="crispEdges">
<polyline points="509.7,1270.2 532.4,1270.2 555.2,1239.2 577.9,1223.7 600.7,1192.7 623.4,1177.2 646.1,1146.2 668.9,1099.7 691.6,1053.2 714.4,1006.7 737.1,991.2 759.8,975.8 782.6,960.3 805.3,944.8 828.1,929.3 850.8,913.8 873.5,898.3 896.3,882.8 919.0,851.8 941.8,805.3 964.5,712.3 987.2,619.4 1010.0,510.9 1032.7,448.9 1055.5,402.4 1078.2,325.0 1100.9,402.4 1123.7,433.4 1146.4,510.9 1169.2,619.4 1191.9,743.3 1214.6,851.8 1237.4,944.8 1260.1,991.2 1282.9,1053.2 1305.6,1099.7 1328.3,1146.2 1351.1,1161.7 1373.8,1177.2 1396.6,1192.7 1419.3,1192.7 1442.0,1208.2 1464.8,1239.2 1487.5,1254.7 1510.3,1270.2 1533.0,1285.7" fill="none" stroke="#00AAFF" stroke-width="8" stroke-linejoin="round"/><rect x="500.8" y="1261.3" width="17.8" height="17.8" fill="#00AAFF"/><rect x="523.5" y="1261.3" width="17.8" height="17.8" fill="#00AAFF"/><rect x="546.3" y="1230.3" width="17.8" height="17.8" fill="#00AAFF"/><rect x="569.0" y="1214.8" width="17.8" height="17.8" fill="#00AAFF"/><rect x="591.8" y="1183.8" width="17.8" height="17.8" fill="#00AAFF"/><rect x="614.5" y="1168.3" width="17.8" height="17.8" fill="#00AAFF"/><rect x="637.2" y="1137.3" width="17.8" height="17.8" fill="#00AAFF"/><rect x="660.0" y="1090.8" width="17.8" height="17.8" fill="#00AAFF"/><rect x="682.7" y="1044.3" width="17.8" height="17.8" fill="#00AAFF"/><rect x="705.5" y="997.8" width="17.8" height="17.8" fill="#00AAFF"/><rect x="728.2" y="982.3" width="17.8" height="17.8" fill="#00AAFF"/><rect x="750.9" y="966.9" width="17.8" height="17.8" fill="#00AAFF"/><rect x="773.7" y="951.4" width="17.8" height="17.8" fill="#00AAFF"/><rect x="796.4" y="935.9" width="17.8" height="17.8" fill="#00AAFF"/><rect x="819.2" y="920.4" width="17.8" height="17.8" fill="#00AAFF"/><rect x="841.9" y="904.9" width="17.8" height="17.8" fill="#00AAFF"/><rect x="864.6" y="889.4" width="17.8" height="17.8" fill="#00AAFF"/><rect x="887.4" y="873.9" width="17.8" height="17.8" fill="#00AAFF"/><rect x="910.1" y="842.9" width="17.8" height="17.8" fill="#00AAFF"/><rect x="932.9" y="796.4" width="17.8" height="17.8" fill="#00AAFF"/><rect x="955.6" y="703.4" width="17.8" height="17.8" fill="#00AAFF"/><rect x="978.3" y="610.5" width="17.8" height="17.8" fill="#00AAFF"/><rect x="1001.1" y="502.0" width="17.8" height="17.8" fill="#00AAFF"/><rect x="1023.8" y="440.0" width="17.8" height="17.8" fill="#00AAFF"/><rect x="1046.6" y="393.5" width="17.8" height="17.8" fill="#00AAFF"/><rect x="1069.3" y="316.1" width="17.8" height="17.8" fill="#00AAFF"/><rect x="1092.0" y="393.5" width="17.8" height="17.8" fill="#00AAFF"/><rect x="1114.8" y="424.5" width="17.8" height="17.8" fill="#00AAFF"/><rect x="1137.5" y="502.0" width="17.8" height="17.8" fill="#00AAFF"/><rect x="1160.3" y="610.5" width="17.8" height="17.8" fill="#00AAFF"/><rect x="1183.0" y="734.4" width="17.8" height="17.8" fill="#00AAFF"/><rect x="1205.7" y="842.9" width="17.8" height="17.8" fill="#00AAFF"/><rect x="1228.5" y="935.9" width="17.8" height="17.8" fill="#00AAFF"/><rect x="1251.2" y="982.3" width="17.8" height="17.8" fill="#00AAFF"/><rect x="1274.0" y="1044.3" width="17.8" height="17.8" fill="#00AAFF"/><rect x="1296.7" y="1090.8" width="17.8" height="17.8" fill="#00AAFF"/><rect x="1319.4" y="1137.3" width="17.8" height="17.8" fill="#00AAFF"/><rect x="1342.2" y="1152.8" width="17.8" height="17.8" fill="#00AAFF"/><rect x="1364.9" y="1168.3" width="17.8" height="17.8" fill="#00AAFF"/><rect x="1387.7" y="1183.8" width="17.8" height="17.8" fill="#00AAFF"/><rect x="1410.4" y="1183.8" width="17.8" height="17.8" fill="#00AAFF"/><rect x="1433.1" y="1199.3" width="17.8" height="17.8" fill="#00AAFF"/><rect x="1455.9" y="1230.3" width="17.8" height="17.8" fill="#00AAFF"/><rect x="1478.6" y="1245.8" width="17.8" height="17.8" fill="#00AAFF"/><rect x="1501.4" y="1261.3" width="17.8" height="17.8" fill="#00AAFF"/><rect x="1524.1" y="1276.8" width="17.8" height="17.8" fill="#00AAFF"/>
<polyline points="509.7,1260.9 532.4,1254.7 555.2,1246.9 577.9,1238.9 600.7,1226.9 623.4,1208.2 646.1,1176.6 668.9,1146.5 691.6,1104.4 714.4,1059.0 737.1,1007.0 759.8,963.5 782.6,929.4 805.3,906.0 828.1,890.5 850.8,882.5 873.5,866.5 896.3,845.9 919.0,805.0 941.8,743.3 964.5,676.7 987.2,585.0 1010.0,492.2 1032.7,399.3 1055.5,341.2 1078.2,294.0 1100.9,308.7 1123.7,408.6 1146.4,458.1 1169.2,549.3 1191.9,697.0 1214.6,848.8 1237.4,975.4 1260.1,1069.0 1282.9,1138.0 1305.6,1178.4 1328.3,1211.0 1351.1,1231.1 1373.8,1242.0 1396.6,1246.6 1419.3,1249.7 1442.0,1251.3 1464.8,1255.1 1487.5,1259.0 1510.3,1262.1 1533.0,1268.3 1555.7,1285.7" fill="none" stroke="#FF0000" stroke-width="8" stroke-linejoin="round"/><circle cx="509.7" cy="1260.9" r="9.8" fill="#FF0000"/><circle cx="532.4" cy="1254.7" r="9.8" fill="#FF0000"/><circle cx="555.2" cy="1246.9" r="9.8" fill="#FF0000"/><circle cx="577.9" cy="1238.9" r="9.8" fill="#FF0000"/><circle cx="600.7" cy="1226.9" r="9.8" fill="#FF0000"/><circle cx="623.4" cy="1208.2" r="9.8" fill="#FF0000"/><circle cx="646.1" cy="1176.6" r="9.8" fill="#FF0000"/><circle cx="668.9" cy="1146.5" r="9.8" fill="#FF0000"/><circle cx="691.6" cy="1104.4" r="9.8" fill="#FF0000"/><circle cx="714.4" cy="1059.0" r="9.8" fill="#FF0000"/><circle cx="737.1" cy="1007.0" r="9.8" fill="#FF0000"/><circle cx="759.8" cy="963.5" r="9.8" fill="#FF0000"/><circle cx="782.6" cy="929.4" r="9.8" fill="#FF0000"/><circle cx="805.3" cy="906.0" r="9.8" fill="#FF0000"/><circle cx="828.1" cy="890.5" r="9.8" fill="#FF0000"/><circle cx="850.8" cy="882.5" r="9.8" fill="#FF0000"/><circle cx="873.5" cy="866.5" r="9.8" fill="#FF0000"/><circle cx="896.3" cy="845.9" r="9.8" fill="#FF0000"/><circle cx="919.0" cy="805.0" r="9.8" fill="#FF0000"/><circle cx="941.8" cy="743.3" r="9.8" fill="#FF0000"/><circle cx="964.5" cy="676.7" r="9.8" fill="#FF0000"/><circle cx="987.2" cy="585.0" r="9.8" fill="#FF0000"/><circle cx="1010.0" cy="492.2" r="9.8" fill="#FF0000"/><circle cx="1032.7" cy="399.3" r="9.8" fill="#FF0000"/><circle cx="1055.5" cy="341.2" r="9.8" fill="#FF0000"/><circle cx="1078.2" cy="294.0" r="9.8" fill="#FF0000"/><circle cx="1100.9" cy="308.7" r="9.8" fill="#FF0000"/><circle cx="1123.7" cy="408.6" r="9.8" fill="#FF0000"/><circle cx="1146.4" cy="458.1" r="9.8" fill="#FF0000"/><circle cx="1169.2" cy="549.3" r="9.8" fill="#FF0000"/><circle cx="1191.9" cy="697.0" r="9.8" fill="#FF0000"/><circle cx="1214.6" cy="848.8" r="9.8" fill="#FF0000"/><circle cx="1237.4" cy="975.4" r="9.8" fill="#FF0000"/><circle cx="1260.1" cy="1069.0" r="9.8" fill="#FF0000"/><circle cx="1282.9" cy="1138.0" r="9.8" fill="#FF0000"/><circle cx="1305.6" cy="1178.4" r="9.8" fill="#FF0000"/><circle cx="1328.3" cy="1211.0" r="9.8" fill="#FF0000"/><circle cx="1351.1" cy="1231.1" r="9.8" fill="#FF0000"/><circle cx="1373.8" cy="1242.0" r="9.8" fill="#FF0000"/><circle cx="1396.6" cy="1246.6" r="9.8" fill="#FF0000"/><circle cx="1419.3" cy="1249.7" r="9.8" fill="#FF0000"/><circle cx="1442.0" cy="1251.3" r="9.8" fill="#FF0000"/><circle cx="1464.8" cy="1255.1" r="9.8" fill="#FF0000"/><circle cx="1487.5" cy="1259.0" r="9.8" fill="#FF0000"/><circle cx="1510.3" cy="1262.1" r="9.8" fill="#FF0000"/><circle cx="1533.0" cy="1268.3" r="9.8" fill="#FF0000"/><circle cx="1555.7" cy="1285.7" r="9.8" fill="#FF0000"/>
<polyline points="509.7,1267.1 532.4,1218.6 555.2,1201.8 577.9,1187.9 600.7,1165.9 623.4,1137.2 646.1,1149.8 668.9,1130.7 691.6,1130.7 714.4,1130.7 737.1,1130.7 759.8,1130.7 782.6,1108.9 805.3,1087.3 828.1,1049.4 850.8,987.5 873.5,941.4 896.3,828.2 919.0,733.4 941.8,587.8 964.5,450.0 987.2,344.5 1010.0,272.0 1032.7,199.9 1055.5,187.5 1078.2,222.1 1100.9,283.1 1123.7,371.4 1146.4,528.9 1169.2,685.2 1191.9,877.4 1214.6,955.1 1237.4,1005.2 1260.1,1080.3 1282.9,1130.4 1305.6,1139.7 1328.3,1165.1 1351.1,1190.2 1373.8,1233.9 1396.6,1261.8 1419.3,1285.7" fill="none" stroke="#00AA00" stroke-width="8" stroke-linejoin="round"/><polygon points="509.7,1253.5 497.4,1274.3 522.0,1274.3" fill="#00AA00"/><polygon points="532.4,1205.0 520.1,1225.8 544.7,1225.8" fill="#00AA00"/><polygon points="555.2,1188.2 542.9,1209.0 567.5,1209.0" fill="#00AA00"/><polygon points="577.9,1174.3 565.6,1195.1 590.2,1195.1" fill="#00AA00"/><polygon points="600.7,1152.3 588.4,1173.1 613.0,1173.1" fill="#00AA00"/><polygon points="623.4,1123.6 611.1,1144.4 635.7,1144.4" fill="#00AA00"/><polygon points="646.1,1136.2 633.8,1157.0 658.4,1157.0" fill="#00AA00"/><polygon points="668.9,1117.1 656.6,1137.9 681.2,1137.9" fill="#00AA00"/><polygon points="691.6,1117.1 679.3,1137.9 703.9,1137.9" fill="#00AA00"/><polygon points="714.4,1117.1 702.1,1137.9 726.7,1137.9" fill="#00AA00"/><polygon points="737.1,1117.1 724.8,1137.9 749.4,1137.9" fill="#00AA00"/><polygon points="759.8,1117.1 747.5,1137.9 772.1,1137.9" fill="#00AA00"/><polygon points="782.6,1095.3 770.3,1116.1 794.9,1116.1" fill="#00AA00"/><polygon points="805.3,1073.7 793.0,1094.5 817.6,1094.5" fill="#00AA00"/><polygon points="828.1,1035.8 815.8,1056.6 840.4,1056.6" fill="#00AA00"/><polygon points="850.8,973.9 838.5,994.7 863.1,994.7" fill="#00AA00"/><polygon points="873.5,927.8 861.2,948.6 885.8,948.6" fill="#00AA00"/><polygon points="896.3,814.6 884.0,835.4 908.6,835.4" fill="#00AA00"/><polygon points="919.0,719.8 906.7,740.6 931.3,740.6" fill="#00AA00"/><polygon points="941.8,574.2 929.5,595.0 954.1,595.0" fill="#00AA00"/><polygon points="964.5,436.4 952.2,457.2 976.8,457.2" fill="#00AA00"/><polygon points="987.2,330.9 974.9,351.7 999.5,351.7" fill="#00AA00"/><polygon points="1010.0,258.4 997.7,279.2 1022.3,279.2" fill="#00AA00"/><polygon points="1032.7,186.3 1020.4,207.1 1045.0,207.1" fill="#00AA00"/><polygon points="1055.5,173.9 1043.2,194.7 1067.8,194.7" fill="#00AA00"/><polygon points="1078.2,208.5 1065.9,229.3 1090.5,229.3" fill="#00AA00"/><polygon points="1100.9,269.5 1088.6,290.3 1113.2,290.3" fill="#00AA00"/><polygon points="1123.7,357.8 1111.4,378.6 1136.0,378.6" fill="#00AA00"/><polygon points="1146.4,515.3 1134.1,536.1 1158.7,536.1" fill="#00AA00"/><polygon points="1169.2,671.6 1156.9,692.4 1181.5,692.4" fill="#00AA00"/><polygon points="1191.9,863.8 1179.6,884.6 1204.2,884.6" fill="#00AA00"/><polygon points="1214.6,941.5 1202.3,962.3 1226.9,962.3" fill="#00AA00"/><polygon points="1237.4,991.6 1225.1,1012.4 1249.7,1012.4" fill="#00AA00"/><polygon points="1260.1,1066.7 1247.8,1087.5 1272.4,1087.5" fill="#00AA00"/><polygon points="1282.9,1116.8 1270.6,1137.6 1295.2,1137.6" fill="#00AA00"/><polygon points="1305.6,1126.1 1293.3,1146.9 1317.9,1146.9" fill="#00AA00"/><polygon points="1328.3,1151.5 1316.0,1172.3 1340.6,1172.3" fill="#00AA00"/><polygon points="1351.1,1176.6 1338.8,1197.4 1363.4,1197.4" fill="#00AA00"/><polygon points="1373.8,1220.3 1361.5,1241.1 1386.1,1241.1" fill="#00AA00"/><polygon points="1396.6,1248.2 1384.3,1269.0 1408.9,1269.0" fill="#00AA00"/><polygon points="1419.3,1272.1 1407.0,1292.9 1431.6,1292.9" fill="#00AA00"/>
</g>
<g shape-rendering="crispEdges">
<rect x="188" y="44" width="6" height="1239" fill="#f00"/><rect x="166" y="1283" width="24" height="6" fill="#f00"/><rect x="166" y="1128" width="24" height="6" fill="#f00"/><rect x="166" y="973" width="24" height="6" fill="#f00"/><rect x="166" y="818" width="24" height="6" fill="#f00"/><rect x="166" y="663" width="24" height="6" fill="#f00"/><rect x="166" y="508" width="24" height="6" fill="#f00"/><rect x="166" y="353" width="24" height="6" fill="#f00"/><rect x="166" y="198" width="24" height="6" fill="#f00"/><rect x="166" y="44" width="24" height="5" fill="#f00"/><rect x="178" y="1269.11" width="11" height="5.6" fill="#f00" shape-rendering="auto"/><rect x="178" y="1255.03" width="11" height="5.6" fill="#f00" shape-rendering="auto"/><rect x="178" y="1240.94" width="11" height="5.6" fill="#f00" shape-rendering="auto"/><rect x="178" y="1226.85" width="11" height="5.6" fill="#f00" shape-rendering="auto"/><rect x="178" y="1212.77" width="11" height="5.6" fill="#f00" shape-rendering="auto"/><rect x="178" y="1198.68" width="11" height="5.6" fill="#f00" shape-rendering="auto"/><rect x="178" y="1184.60" width="11" height="5.6" fill="#f00" shape-rendering="auto"/><rect x="178" y="1170.51" width="11" height="5.6" fill="#f00" shape-rendering="auto"/><rect x="178" y="1156.42" width="11" height="5.6" fill="#f00" shape-rendering="auto"/><rect x="178" y="1142.34" width="11" height="5.6" fill="#f00" shape-rendering="auto"/><rect x="178" y="1114.16" width="11" height="5.6" fill="#f00" shape-rendering="auto"/><rect x="178" y="1100.08" width="11" height="5.6" fill="#f00" shape-rendering="auto"/><rect x="178" y="1085.99" width="11" height="5.6" fill="#f00" shape-rendering="auto"/><rect x="178" y="1071.90" width="11" height="5.6" fill="#f00" shape-rendering="auto"/><rect x="178" y="1057.82" width="11" height="5.6" fill="#f00" shape-rendering="auto"/><rect x="178" y="1043.73" width="11" height="5.6" fill="#f00" shape-rendering="auto"/><rect x="178" y="1029.65" width="11" height="5.6" fill="#f00" shape-rendering="auto"/><rect x="178" y="1015.56" width="11" height="5.6" fill="#f00" shape-rendering="auto"/><rect x="178" y="1001.47" width="11" height="5.6" fill="#f00" shape-rendering="auto"/><rect x="178" y="987.39" width="11" height="5.6" fill="#f00" shape-rendering="auto"/><rect x="178" y="959.21" width="11" height="5.6" fill="#f00" shape-rendering="auto"/><rect x="178" y="945.13" width="11" height="5.6" fill="#f00" shape-rendering="auto"/><rect x="178" y="931.04" width="11" height="5.6" fill="#f00" shape-rendering="auto"/><rect x="178" y="916.95" width="11" height="5.6" fill="#f00" shape-rendering="auto"/><rect x="178" y="902.87" width="11" height="5.6" fill="#f00" shape-rendering="auto"/><rect x="178" y="888.78" width="11" height="5.6" fill="#f00" shape-rendering="auto"/><rect x="178" y="874.70" width="11" height="5.6" fill="#f00" shape-rendering="auto"/><rect x="178" y="860.61" width="11" height="5.6" fill="#f00" shape-rendering="auto"/><rect x="178" y="846.52" width="11" height="5.6" fill="#f00" shape-rendering="auto"/><rect x="178" y="832.44" width="11" height="5.6" fill="#f00" shape-rendering="auto"/><rect x="178" y="804.26" width="11" height="5.6" fill="#f00" shape-rendering="auto"/><rect x="178" y="790.18" width="11" height="5.6" fill="#f00" shape-rendering="auto"/><rect x="178" y="776.09" width="11" height="5.6" fill="#f00" shape-rendering="auto"/><rect x="178" y="762.00" width="11" height="5.6" fill="#f00" shape-rendering="auto"/><rect x="178" y="747.92" width="11" height="5.6" fill="#f00" shape-rendering="auto"/><rect x="178" y="733.83" width="11" height="5.6" fill="#f00" shape-rendering="auto"/><rect x="178" y="719.75" width="11" height="5.6" fill="#f00" shape-rendering="auto"/><rect x="178" y="705.66" width="11" height="5.6" fill="#f00" shape-rendering="auto"/><rect x="178" y="691.57" width="11" height="5.6" fill="#f00" shape-rendering="auto"/><rect x="178" y="677.49" width="11" height="5.6" fill="#f00" shape-rendering="auto"/><rect x="178" y="649.31" width="11" height="5.6" fill="#f00" shape-rendering="auto"/><rect x="178" y="635.23" width="11" height="5.6" fill="#f00" shape-rendering="auto"/><rect x="178" y="621.14" width="11" height="5.6" fill="#f00" shape-rendering="auto"/><rect x="178" y="607.05" width="11" height="5.6" fill="#f00" shape-rendering="auto"/><rect x="178" y="592.97" width="11" height="5.6" fill="#f00" shape-rendering="auto"/><rect x="178" y="578.88" width="11" height="5.6" fill="#f00" shape-rendering="auto"/><rect x="178" y="564.80" width="11" height="5.6" fill="#f00" shape-rendering="auto"/><rect x="178" y="550.71" width="11" height="5.6" fill="#f00" shape-rendering="auto"/><rect x="178" y="536.62" width="11" height="5.6" fill="#f00" shape-rendering="auto"/><rect x="178" y="522.54" width="11" height="5.6" fill="#f00" shape-rendering="auto"/><rect x="178" y="494.36" width="11" height="5.6" fill="#f00" shape-rendering="auto"/><rect x="178" y="480.28" width="11" height="5.6" fill="#f00" shape-rendering="auto"/><rect x="178" y="466.19" width="11" height="5.6" fill="#f00" shape-rendering="auto"/><rect x="178" y="452.10" width="11" height="5.6" fill="#f00" shape-rendering="auto"/><rect x="178" y="438.02" width="11" height="5.6" fill="#f00" shape-rendering="auto"/><rect x="178" y="423.93" width="11" height="5.6" fill="#f00" shape-rendering="auto"/><rect x="178" y="409.85" width="11" height="5.6" fill="#f00" shape-rendering="auto"/><rect x="178" y="395.76" width="11" height="5.6" fill="#f00" shape-rendering="auto"/><rect x="178" y="381.67" width="11" height="5.6" fill="#f00" shape-rendering="auto"/><rect x="178" y="367.59" width="11" height="5.6" fill="#f00" shape-rendering="auto"/><rect x="178" y="339.41" width="11" height="5.6" fill="#f00" shape-rendering="auto"/><rect x="178" y="325.33" width="11" height="5.6" fill="#f00" shape-rendering="auto"/><rect x="178" y="311.24" width="11" height="5.6" fill="#f00" shape-rendering="auto"/><rect x="178" y="297.15" width="11" height="5.6" fill="#f00" shape-rendering="auto"/><rect x="178" y="283.07" width="11" height="5.6" fill="#f00" shape-rendering="auto"/><rect x="178" y="268.98" width="11" height="5.6" fill="#f00" shape-rendering="auto"/><rect x="178" y="254.90" width="11" height="5.6" fill="#f00" shape-rendering="auto"/><rect x="178" y="240.81" width="11" height="5.6" fill="#f00" shape-rendering="auto"/><rect x="178" y="226.72" width="11" height="5.6" fill="#f00" shape-rendering="auto"/><rect x="178" y="212.64" width="11" height="5.6" fill="#f00" shape-rendering="auto"/><rect x="178" y="184.46" width="11" height="5.6" fill="#f00" shape-rendering="auto"/><rect x="178" y="170.38" width="11" height="5.6" fill="#f00" shape-rendering="auto"/><rect x="178" y="156.29" width="11" height="5.6" fill="#f00" shape-rendering="auto"/><rect x="178" y="142.20" width="11" height="5.6" fill="#f00" shape-rendering="auto"/><rect x="178" y="128.12" width="11" height="5.6" fill="#f00" shape-rendering="auto"/><rect x="178" y="114.03" width="11" height="5.6" fill="#f00" shape-rendering="auto"/><rect x="178" y="99.95" width="11" height="5.6" fill="#f00" shape-rendering="auto"/><rect x="178" y="85.86" width="11" height="5.6" fill="#f00" shape-rendering="auto"/><rect x="178" y="71.77" width="11" height="5.6" fill="#f00" shape-rendering="auto"/><rect x="178" y="57.69" width="11" height="5.6" fill="#f00" shape-rendering="auto"/>
</g>
<g shape-rendering="crispEdges">
<rect x="231" y="99" width="584" height="260.6" fill="#fff" stroke="#000" stroke-width="2"/>
</g>
<g shape-rendering="crispEdges"><rect x="269" y="154" width="148" height="8" fill="#00AAFF"/><rect x="334.1" y="149.1" width="17.8" height="17.8" fill="#00AAFF"/><rect x="269" y="236" width="148" height="8" fill="#FF0000"/><circle cx="343.0" cy="240.0" r="9.8" fill="#FF0000"/><rect x="269" y="319" width="148" height="7" fill="#00AA00"/><polygon points="343.0,308.9 330.7,329.7 355.3,329.7" fill="#00AA00"/></g>
<g filter="url(#th)">
<text transform="translate(434.2,180.2) scale(1,1.045)" font-family="'Liberation Sans',sans-serif" font-size="66.1" fill="#000" text-anchor="start">+800kV(DC)</text><text transform="translate(434.2,262.2) scale(1,1.045)" font-family="'Liberation Sans',sans-serif" font-size="66.1" fill="#000" text-anchor="start">-800kV(DC)</text><text transform="translate(434.2,344.7) scale(1,1.045)" font-family="'Liberation Sans',sans-serif" font-size="66.1" fill="#000" text-anchor="start">1000kV(AC)</text>
<text transform="translate(156.8,1301.1) scale(1,1.0)" font-family="'Liberation Serif',serif" font-weight="bold" font-size="54" fill="#f00" text-anchor="end">0</text><text transform="translate(156.8,1146.1) scale(1,1.0)" font-family="'Liberation Serif',serif" font-weight="bold" font-size="54" fill="#f00" text-anchor="end">1</text><text transform="translate(156.8,991.2) scale(1,1.0)" font-family="'Liberation Serif',serif" font-weight="bold" font-size="54" fill="#f00" text-anchor="end">2</text><text transform="translate(156.8,836.3) scale(1,1.0)" font-family="'Liberation Serif',serif" font-weight="bold" font-size="54" fill="#f00" text-anchor="end">3</text><text transform="translate(156.8,681.3) scale(1,1.0)" font-family="'Liberation Serif',serif" font-weight="bold" font-size="54" fill="#f00" text-anchor="end">4</text><text transform="translate(156.8,526.4) scale(1,1.0)" font-family="'Liberation Serif',serif" font-weight="bold" font-size="54" fill="#f00" text-anchor="end">5</text><text transform="translate(156.8,371.4) scale(1,1.0)" font-family="'Liberation Serif',serif" font-weight="bold" font-size="54" fill="#f00" text-anchor="end">6</text><text transform="translate(156.8,216.5) scale(1,1.0)" font-family="'Liberation Serif',serif" font-weight="bold" font-size="54" fill="#f00" text-anchor="end">7</text><text transform="translate(156.8,61.5) scale(1,1.0)" font-family="'Liberation Serif',serif" font-weight="bold" font-size="54" fill="#f00" text-anchor="end">8</text><text transform="translate(1891.0,1300.2) scale(1,1.0)" font-family="'Liberation Serif',serif" font-weight="bold" font-size="54" fill="#00f" text-anchor="start">0</text><text transform="translate(1891.0,1176.9) scale(1,1.0)" font-family="'Liberation Serif',serif" font-weight="bold" font-size="54" fill="#00f" text-anchor="start">10</text><text transform="translate(1891.0,1053.6) scale(1,1.0)" font-family="'Liberation Serif',serif" font-weight="bold" font-size="54" fill="#00f" text-anchor="start">20</text><text transform="translate(1891.0,930.2) scale(1,1.0)" font-family="'Liberation Serif',serif" font-weight="bold" font-size="54" fill="#00f" text-anchor="start">30</text><text transform="translate(1891.0,806.9) scale(1,1.0)" font-family="'Liberation Serif',serif" font-weight="bold" font-size="54" fill="#00f" text-anchor="start">40</text><text transform="translate(1891.0,683.6) scale(1,1.0)" font-family="'Liberation Serif',serif" font-weight="bold" font-size="54" fill="#00f" text-anchor="start">50</text><text transform="translate(1891.0,560.3) scale(1,1.0)" font-family="'Liberation Serif',serif" font-weight="bold" font-size="54" fill="#00f" text-anchor="start">60</text><text transform="translate(1891.0,437.0) scale(1,1.0)" font-family="'Liberation Serif',serif" font-weight="bold" font-size="54" fill="#00f" text-anchor="start">70</text><text transform="translate(1891.0,313.6) scale(1,1.0)" font-family="'Liberation Serif',serif" font-weight="bold" font-size="54" fill="#00f" text-anchor="start">80</text><text transform="translate(1891.0,190.3) scale(1,1.0)" font-family="'Liberation Serif',serif" font-weight="bold" font-size="54" fill="#00f" text-anchor="start">90</text><text transform="translate(1891.0,67.0) scale(1,1.0)" font-family="'Liberation Serif',serif" font-weight="bold" font-size="54" fill="#00f" text-anchor="start">100</text><text transform="translate(190.8,1360.0) scale(1,1.0)" font-family="'Liberation Serif',serif" font-weight="bold" font-size="54" fill="#000" text-anchor="middle">0.1</text><text transform="translate(606.0,1360.0) scale(1,1.0)" font-family="'Liberation Serif',serif" font-weight="bold" font-size="54" fill="#000" text-anchor="middle">1</text><text transform="translate(1021.1,1360.0) scale(1,1.0)" font-family="'Liberation Serif',serif" font-weight="bold" font-size="54" fill="#000" text-anchor="middle">10</text><text transform="translate(1436.2,1360.0) scale(1,1.0)" font-family="'Liberation Serif',serif" font-weight="bold" font-size="54" fill="#000" text-anchor="middle">100</text><text transform="translate(1851.4,1360.0) scale(1,1.0)" font-family="'Liberation Serif',serif" font-weight="bold" font-size="54" fill="#000" text-anchor="middle">1000</text><text transform="translate(1021.5,1443.0) scale(1,1.0)" font-family="'Liberation Sans',sans-serif" font-size="84" fill="#000" text-anchor="middle">Particle Diameter/μm</text><text transform="translate(101.0,666.5) rotate(-90) scale(1,1.0)" font-family="'Liberation Sans',sans-serif" font-size="78.6" fill="#f00" text-anchor="middle">Distribution Probability/%</text><text transform="translate(2020.0,665.0) rotate(-90) scale(1,1.0)" font-family="'Liberation Sans',sans-serif" font-size="78.5" fill="#00f" text-anchor="middle">Cumulative Probability/%</text>
</g>
</svg>
</body></html>
